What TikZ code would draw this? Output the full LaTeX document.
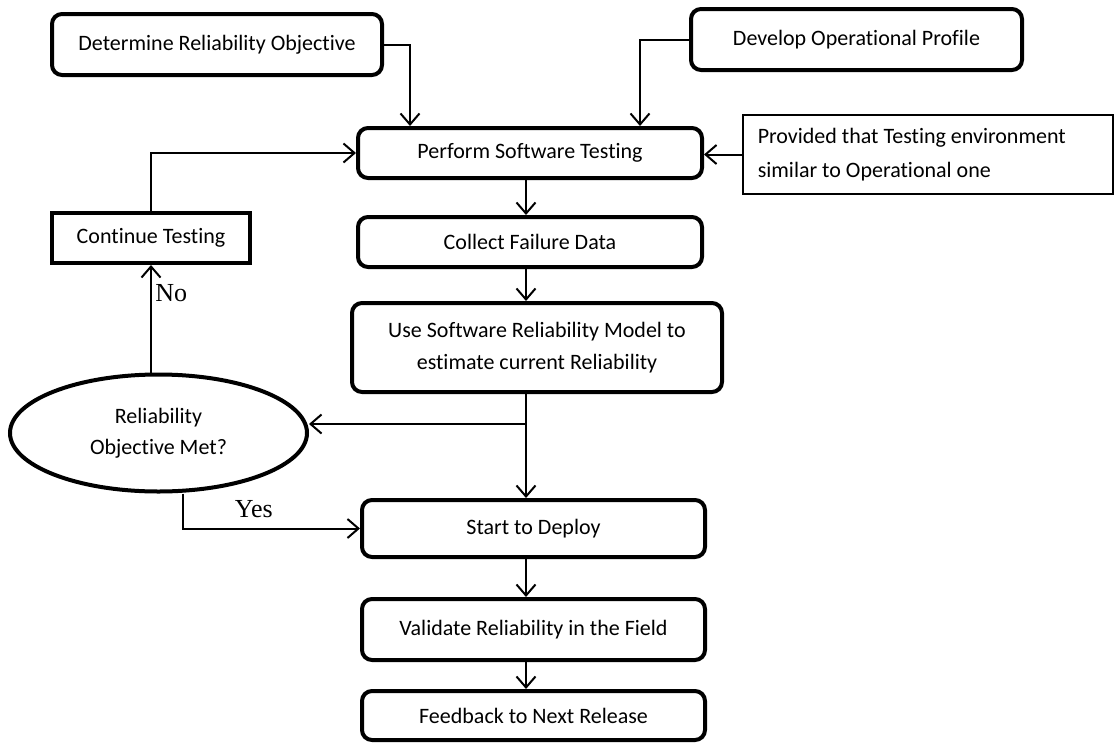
\documentclass[tikz,border=0pt]{standalone}
\usepackage{fontspec}
\setmainfont{Carlito}[Ligatures=NoCommon]
\newfontfamily\answerfont{Liberation Serif}
\usetikzlibrary{arrows.meta, shapes.geometric}

\begin{document}
\begin{tikzpicture}[x=1pt, y=-1pt, ->, >={Straight Barb[length=11pt, width=19pt]}, line width=2pt,
		stage/.style={draw, line width=4pt, rounded corners=10pt, minimum width=343pt, minimum height=50pt, inner sep=4pt, align=center, font=\fontsize{22}{32}\selectfont},
		note/.style={draw, line width=1.5pt, text width=340pt, inner xsep=15pt, minimum height=79pt, align=flush left, font=\fontsize{22}{34}\selectfont},
		decision/.style={draw, ellipse, line width=4pt, minimum width=297pt, minimum height=117pt, inner sep=0pt, align=center, font=\fontsize{22}{31}\selectfont},
		answer/.style={font=\fontsize{26}{30}\answerfont}]
		\useasboundingbox (0,0) rectangle (1114,742);

		\node[stage, minimum width=330pt, minimum height=61pt] (goal) at (217,44.5) {Determine Reliability Objective};
		\node[stage, minimum width=331pt, minimum height=61pt] (profile) at (856.5,39.5) {Develop Operational Profile};
		\node[stage, minimum width=344pt] (test) at (530,153) {Perform Software Testing};
		\node[note, anchor=west] (env) at (742,154.5) {Provided that Testing environment\\similar to Operational one};
		\node[stage, sharp corners, minimum width=198pt] (cont) at (151,238) {Continue Testing};
		\node[stage, minimum width=344pt] (collect) at (530,242) {Collect Failure Data};
		\node[stage, minimum width=370pt, minimum height=89pt] (model) at (537,347.5) {Use Software Reliability Model to\\estimate current Reliability};
		\node[decision] (met) at (158.5,433) {Reliability\\Objective Met?};
		\node[stage, minimum height=57pt] (deploy) at (533.5,528.5) {Start to Deploy};
		\node[stage, minimum height=61pt] (field) at (533.5,629.5) {Validate Reliability in the Field};
		\node[stage, minimum height=49pt] (release) at (533.5,715.5) {Feedback to Next Release};

		\coordinate (spine) at (526,0);
		\coordinate (drop1) at (410,0);
		\coordinate (drop2) at (640,0);
		\coordinate (fork) at (526,424);

		\draw (goal.east) -| (drop1 |- test.north);
		\draw (profile.west) -| (drop2 |- test.north);
		\draw (env.west) -- (env.west -| test.east);
		\draw (cont.north) |- (test.west);
		\draw (test.south -| spine) -- (collect.north -| spine);
		\draw (collect.south -| spine) -- (model.north -| spine);
		\draw (model.south -| spine) -- (deploy.north -| spine);
		\draw (fork) -- (fork -| met.east);
		\draw (met.north -| cont.south) -- node[answer, right, pos=0.74] {No} (cont.south);
		\draw ([xshift=24.5pt]met.south) |- node[answer, above=6pt, pos=0.7] {Yes} (deploy.west);
		\draw (deploy.south -| spine) -- (field.north -| spine);
		\draw (field.south -| spine) -- (release.north -| spine);
	\end{tikzpicture}
\end{document}
